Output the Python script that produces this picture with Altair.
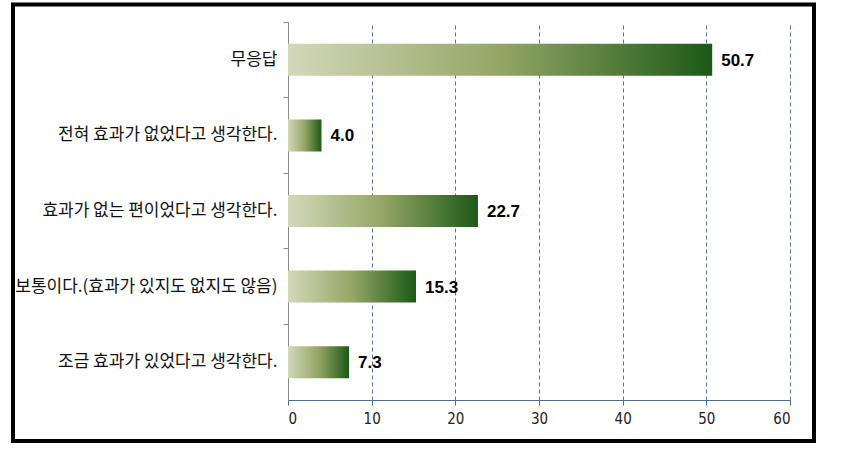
import altair as alt
import pandas as pd

categories = [
    "무응답",
    "전혀 효과가 없었다고 생각한다.",
    "효과가 없는 편이었다고 생각한다.",
    "보통이다.(효과가 있지도 없지도 않음)",
    "조금 효과가 있었다고 생각한다.",
]
values = [50.7, 4.0, 22.7, 15.3, 7.3]
x_ticks = [0, 10, 20, 30, 40, 50, 60]

df = pd.DataFrame({"cat": categories, "val": values})
df["lbl"] = [f"{v:.1f}" for v in values]

grad = alt.Gradient(
    gradient="linear",
    stops=[
        alt.GradientStop(color="#d3d8b9", offset=0),
        alt.GradientStop(color="#94a666", offset=0.5),
        alt.GradientStop(color="#1c5916", offset=1),
    ],
    x1=0, x2=1, y1=0, y2=0,
)

xscale = alt.Scale(domain=[0, 60], nice=False)
yenc = alt.Y(
    "cat:N",
    sort=None,
    scale=alt.Scale(paddingInner=0, paddingOuter=0),
    axis=alt.Axis(
        title=None,
        bandPosition=0,
        tickSize=5,
        tickColor="#8c8c8c",
        domainColor="#8c8c8c",
        labelFont="Noto Sans CJK KR",
        labelFontSize=17,
        labelColor="#111111",
        labelPadding=6,
        labelLimit=400,
    ),
)

bars = alt.Chart(df).mark_bar(color=grad, size=32).encode(
    x=alt.X(
        "val:Q",
        scale=xscale,
        axis=alt.Axis(
            title=None,
            values=x_ticks,
            grid=True,
            gridDash=[4, 3],
            gridColor="#5a7596",
            gridWidth=1,
            domainColor="#4a6e9a",
            tickColor="#4a6e9a",
            tickSize=5,
            labelFont="DejaVu Sans Condensed",
            labelFontSize=15,
            labelColor="#222222",
            labelPadding=6,
        ),
    ),
    y=yenc,
)

text = alt.Chart(df).mark_text(
    align="left", baseline="middle", dx=9, dy=1,
    font="Liberation Sans", fontWeight="bold", fontSize=17, color="#000000",
).encode(
    x=alt.X("val:Q", scale=xscale),
    y=alt.Y("cat:N", sort=None),
    text="lbl:N",
)

border = alt.Chart(pd.DataFrame({"a": [0]})).mark_rect(
    filled=False, stroke="#000000", strokeWidth=4
).encode(
    x=alt.value(-275), x2=alt.value(526),
    y=alt.value(-17.5), y2=alt.value(419),
)

chart = alt.layer(bars, text, border).properties(
    width=502,
    height=378,
    autosize=alt.AutoSizeParams(type="none"),
    padding={"left": 288, "top": 22, "right": 68, "bottom": 57},
    background="white",
).configure_view(stroke=None)

chart.save("out.html", embed_options={"renderer": "svg", "actions": False})
